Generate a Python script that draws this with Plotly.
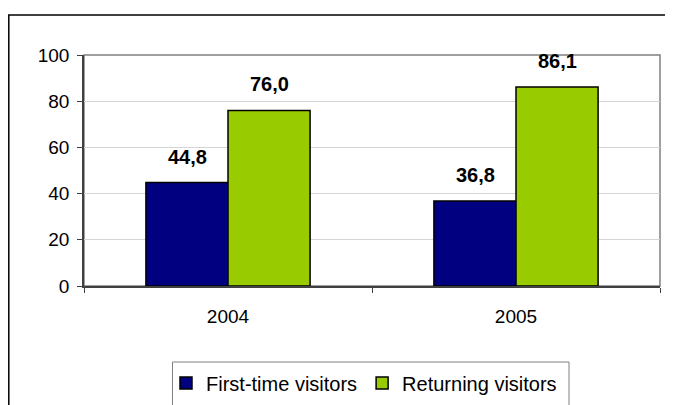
import plotly.graph_objects as go

years = ["2004", "2005"]
first_time = [44.8, 36.8]
returning = [76.0, 86.1]
series_names = ["First-time visitors", "Returning visitors"]
colors = ["#000080", "#99CC00"]

def fmt(v):
    return f"{v:.1f}".replace(".", ",")

FONT = "Liberation Sans, Arial, sans-serif"
# page is offset by 8px (body margin); figure sized to fill rest of window
W, H = 665, 397
PL, PR, PT, PB = 84, 660, 55, 286  # plot area in page pixels
OFF = 8
pw, ph = PR - PL, PB - PT

fig = go.Figure()
for name, vals, col in zip(series_names, [first_time, returning], colors):
    fig.add_trace(go.Bar(
        x=years, y=vals, name=name,
        marker=dict(color=col, line=dict(color="black", width=1.5)),
    ))

annotations = []
for vals, shift in [(first_time, -41), (returning, 41)]:
    for i, v in enumerate(vals):
        annotations.append(dict(
            x=i, y=v, xref="x", yref="y", text="<b>%s</b>" % fmt(v),
            showarrow=False, xshift=shift, yshift=26, yanchor="middle",
            font=dict(family=FONT, size=20, color="black"),
        ))

fig.update_layout(
    width=W, height=H,
    margin=dict(l=PL - OFF, r=W + OFF - PR, t=PT - OFF, b=H + OFF - PB, pad=0,
                autoexpand=False),
    paper_bgcolor="white", plot_bgcolor="white",
    barmode="group", bargap=0.43, bargroupgap=0,
    font=dict(family=FONT, size=19, color="black"),
    showlegend=True,
    legend=dict(
        orientation="h", x=(166 - PL) / pw, xanchor="left",
        y=(PB - 383) / ph, yanchor="middle",
        font=dict(size=20), bgcolor="rgba(0,0,0,0)", borderwidth=0,
        itemwidth=30, traceorder="normal",
    ),
    annotations=annotations,
    shapes=[
        # outer chart border
        dict(type="rect", xref="paper", yref="paper", x0=(8.8 - PL) / pw, x1=1.2,
             y0=-0.8, y1=(PB - 15) / ph, line=dict(color="black", width=1.5), layer="below"),
        # plot area border
        dict(type="rect", xref="paper", yref="paper", x0=0, x1=1, y0=0, y1=1,
             line=dict(color="#808080", width=1.5), layer="below"),
        # legend frame
        dict(type="rect", xref="paper", yref="paper", x0=(172.5 - PL) / pw,
             x1=(569 - PL) / pw, y0=-0.6, y1=(PB - 362) / ph,
             line=dict(color="#808080", width=1), layer="below"),
    ],
)

fig.update_yaxes(
    range=[0, 100], dtick=20, showgrid=True, gridcolor="#d4d4d4", gridwidth=1,
    showline=True, linecolor="#404040", linewidth=1.5,
    ticks="outside", ticklen=5, tickcolor="#404040", zeroline=False,
    tickfont=dict(size=19), ticklabelstandoff=4,
)
fig.update_xaxes(
    type="category", range=[-0.5, len(years) - 0.5],
    showline=True, linecolor="#404040", linewidth=1.5,
    ticks="outside", ticklen=5, tickcolor="#404040", tickson="boundaries",
    tickfont=dict(size=19), ticklabelstandoff=12,
)

fig.write_html("out.html")
